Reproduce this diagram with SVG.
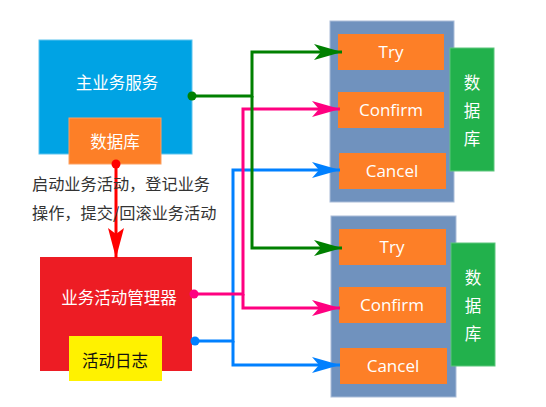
<svg xmlns="http://www.w3.org/2000/svg" width="546" height="407" viewBox="0 0 546 407">
<defs>
<style>
.cn{font-family:"Noto Sans CJK SC","Microsoft YaHei",sans-serif;font-size:16.5px;text-anchor:middle;fill:#fff}
.en{font-family:"Open Sans","Noto Sans",sans-serif;font-size:17px;text-anchor:middle;fill:#fff}
.note{font-family:"Noto Sans CJK SC",sans-serif;font-size:16.2px;fill:#333}
.op{fill:#FD7F27}
.ctr{fill:#7092BE;stroke:#A9BCD8;stroke-width:1}
.db{fill:#22B14C;stroke:#5CC67C;stroke-width:1}
.ln{fill:none;stroke-width:3}
</style>
<marker id="ag" markerUnits="userSpaceOnUse" markerWidth="30" markerHeight="18" refX="28" refY="8" orient="auto"><path d="M0,0 L28,8 L0,16 L7,8 z" fill="#008000"/></marker>
<marker id="ap" markerUnits="userSpaceOnUse" markerWidth="30" markerHeight="18" refX="28" refY="8" orient="auto"><path d="M0,0 L28,8 L0,16 L7,8 z" fill="#FF0080"/></marker>
<marker id="ab" markerUnits="userSpaceOnUse" markerWidth="30" markerHeight="18" refX="28" refY="8" orient="auto"><path d="M0,0 L28,8 L0,16 L7,8 z" fill="#0080FF"/></marker>
<marker id="ar" markerUnits="userSpaceOnUse" markerWidth="32" markerHeight="18" refX="30" refY="8" orient="auto"><path d="M0,0 L30,8 L0,16 L6,8 z" fill="#FF0000"/></marker>
</defs>
<rect width="546" height="407" fill="#fff"/>

<g id="main-service">
<rect x="39" y="40" width="153" height="114" fill="#00A3E4" stroke="#5CC3EE" stroke-width="1"/>
<text class="cn" x="117" y="89">主业务服务</text>
</g>
<g id="main-db">
<rect x="69" y="118" width="92" height="46" class="op" stroke="#FDA060" stroke-width="1"/>
<text class="cn" x="115" y="148">数据库</text>
</g>

<g id="manager">
<rect x="40" y="257" width="152" height="114" fill="#ED1C24"/>
<text class="cn" x="119" y="304">业务活动管理器</text>
</g>
<g id="activity-log">
<rect x="69" y="336" width="93" height="45" fill="#FFF200"/>
<text class="cn" x="115" y="367" style="fill:#111">活动日志</text>
</g>

<g id="service-1">
<rect class="ctr" x="330" y="21" width="124" height="181"/>
</g>
<g id="try-1"><rect class="op" x="338" y="34" width="106" height="36"/><text class="en" x="391" y="58">Try</text></g>
<g id="confirm-1"><rect class="op" x="338" y="92" width="106" height="36"/><text class="en" x="391" y="116">Confirm</text></g>
<g id="cancel-1"><rect class="op" x="339" y="153" width="107" height="36"/><text class="en" x="392" y="177">Cancel</text></g>
<g id="db-1"><rect class="db" x="450" y="48" width="44" height="123"/>
<text class="cn" x="472" y="89">数</text><text class="cn" x="472" y="117">据</text><text class="cn" x="472" y="145">库</text></g>

<g id="service-2">
<rect class="ctr" x="331" y="216" width="125" height="181"/>
</g>
<g id="try-2"><rect class="op" x="339" y="229" width="107" height="36"/><text class="en" x="392" y="253">Try</text></g>
<g id="confirm-2"><rect class="op" x="339" y="287" width="107" height="36"/><text class="en" x="392" y="311">Confirm</text></g>
<g id="cancel-2"><rect class="op" x="340" y="348" width="107" height="36"/><text class="en" x="393" y="372">Cancel</text></g>
<g id="db-2"><rect class="db" x="451" y="243" width="44" height="123"/>
<text class="cn" x="473" y="284">数</text><text class="cn" x="473" y="312">据</text><text class="cn" x="473" y="340">库</text></g>

<g id="connectors">
<path class="ln" stroke="#0080FF" d="M195,341 H233 V170 H340" marker-end="url(#ab)"/>
<path class="ln" stroke="#0080FF" d="M233,341 V365 H340" marker-end="url(#ab)"/>
<path class="ln" stroke="#FF0080" d="M194,294 H243 V109 H340" marker-end="url(#ap)"/>
<path class="ln" stroke="#FF0080" d="M243,294 V308 H340" marker-end="url(#ap)"/>
<path class="ln" stroke="#008000" d="M192,96 H252 V52 H342" marker-end="url(#ag)"/>
<path class="ln" stroke="#008000" d="M252,96 V248 H342" marker-end="url(#ag)"/>
<path class="ln" stroke="#FF0000" d="M116,164 V258" marker-end="url(#ar)"/>
<circle cx="192" cy="96" r="4.5" fill="#008000"/>
<circle cx="194" cy="294" r="4.5" fill="#FF0080"/>
<circle cx="195" cy="341" r="4.5" fill="#0080FF"/>
<circle cx="116" cy="164" r="4.5" fill="#FF0000"/>
</g>

<text class="note" x="32" y="190">启动业务活动，登记业务</text>
<text class="note" x="32" y="219">操作，提交/回滚业务活动</text>
</svg>
